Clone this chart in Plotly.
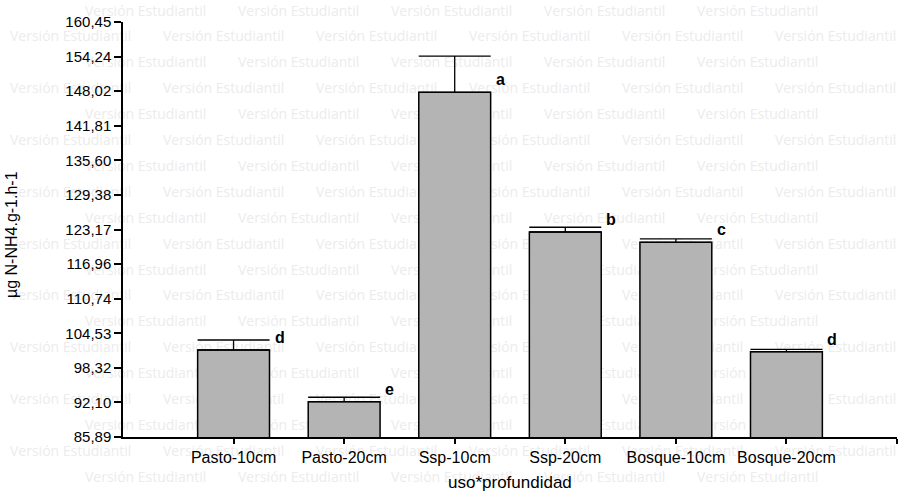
import plotly.graph_objects as go

categories = ["Pasto-10cm", "Pasto-20cm", "Ssp-10cm", "Ssp-20cm", "Bosque-10cm", "Bosque-20cm"]
means = [101.52, 92.23, 147.82, 122.72, 120.87, 101.22]
errors = [1.80, 0.80, 6.50, 0.85, 0.60, 0.40]
letters = ["d", "e", "a", "b", "c", "d"]
ytick_vals = [85.89, 92.10, 98.32, 104.53, 110.74, 116.96, 123.17, 129.38, 135.60, 141.81, 148.02, 154.24, 160.45]
ytick_text = ["85,89", "92,10", "98,32", "104,53", "110,74", "116,96", "123,17", "129,38",
              "135,60", "141,81", "148,02", "154,24", "160,45"]

W, H = 920, 493
bar_w = 0.65
positions = list(range(1, len(categories) + 1))

fig = go.Figure()

# watermark layer (full-page subplot, drawn below the bars)
wm_x, wm_y = [], []
for r in range(19):
    yy = 12 + 25.9 * r
    start = 85 if r % 2 == 0 else 10
    k = start
    while k + 132 < W:
        wm_x.append(k)
        wm_y.append(yy)
        k += 153
fig.add_trace(go.Scatter(
    x=wm_x, y=wm_y, mode="text", text=["Versión Estudiantil"] * len(wm_x),
    textposition="middle right",
    textfont=dict(family="Open Sans", size=14, color="rgb(236,236,236)"),
    hoverinfo="skip", showlegend=False, cliponaxis=False,
    xaxis="x", yaxis="y",
))

fig.add_trace(go.Bar(
    x=positions, y=means, width=bar_w,
    marker=dict(color="rgb(180,180,180)", line=dict(color="black", width=1.5)),
    error_y=dict(type="data", array=errors, symmetric=False, arrayminus=[0] * len(errors),
                 color="black", thickness=1.3, width=36),
    xaxis="x2", yaxis="y2", showlegend=False, hoverinfo="skip",
))

annotations = []
for p, m, l in zip(positions, means, letters):
    annotations.append(dict(
        x=p + bar_w / 2, y=m, xref="x2", yref="y2", text=l, showarrow=False,
        xanchor="left", yanchor="middle", xshift=3, yshift=12.5,
        font=dict(family="Liberation Sans, Arial", size=16, color="black", weight="bold"),
    ))

# axis titles
annotations.append(dict(
    x=510 / W, y=1 - 482 / H, xref="paper", yref="paper", text="uso*profundidad",
    showarrow=False, xanchor="center", yanchor="middle",
    font=dict(family="Liberation Sans, Arial", size=17, color="black"),
))
annotations.append(dict(
    x=11 / W, y=1 - 235 / H, xref="paper", yref="paper", text="µg N-NH4.g-1.h-1",
    showarrow=False, xanchor="center", yanchor="middle", textangle=-90,
    font=dict(family="Liberation Sans, Arial", size=16, color="black"),
))

fig.update_layout(
    width=W, height=H,
    margin=dict(l=0, r=0, t=0, b=0, pad=0, autoexpand=False),
    paper_bgcolor="white", plot_bgcolor="rgba(0,0,0,0)",
    showlegend=False, hovermode=False,
    xaxis=dict(domain=[0, 1], range=[0, W], visible=False, fixedrange=True, automargin=False),
    yaxis=dict(domain=[0, 1], range=[H, 0], visible=False, fixedrange=True, automargin=False),
    xaxis2=dict(
        domain=[123 / W, 897 / W], anchor="y2", range=[0, 7], automargin=False,
        tickvals=positions + [7], ticktext=categories + [""],
        ticks="outside", ticklen=5, tickwidth=1.5, tickcolor="black",
        showline=True, linecolor="black", linewidth=1.5, showgrid=False, zeroline=False,
        tickfont=dict(family="Liberation Sans, Arial", size=16, color="black"),
    ),
    yaxis2=dict(
        domain=[1 - 437 / H, 1 - 22 / H], anchor="x2", range=[85.89, 160.45], automargin=False,
        tickvals=ytick_vals, ticktext=ytick_text,
        ticks="outside", ticklen=7, tickwidth=1.5, tickcolor="black",
        showline=True, linecolor="black", linewidth=1.5, showgrid=False, zeroline=False,
        tickfont=dict(family="Liberation Sans, Arial", size=15, color="black"),
    ),
    annotations=annotations,
)

fig.write_html(
    "out.html",
    config={"displayModeBar": False},
    post_script="document.body.style.margin='0';document.body.style.overflow='hidden';",
)
